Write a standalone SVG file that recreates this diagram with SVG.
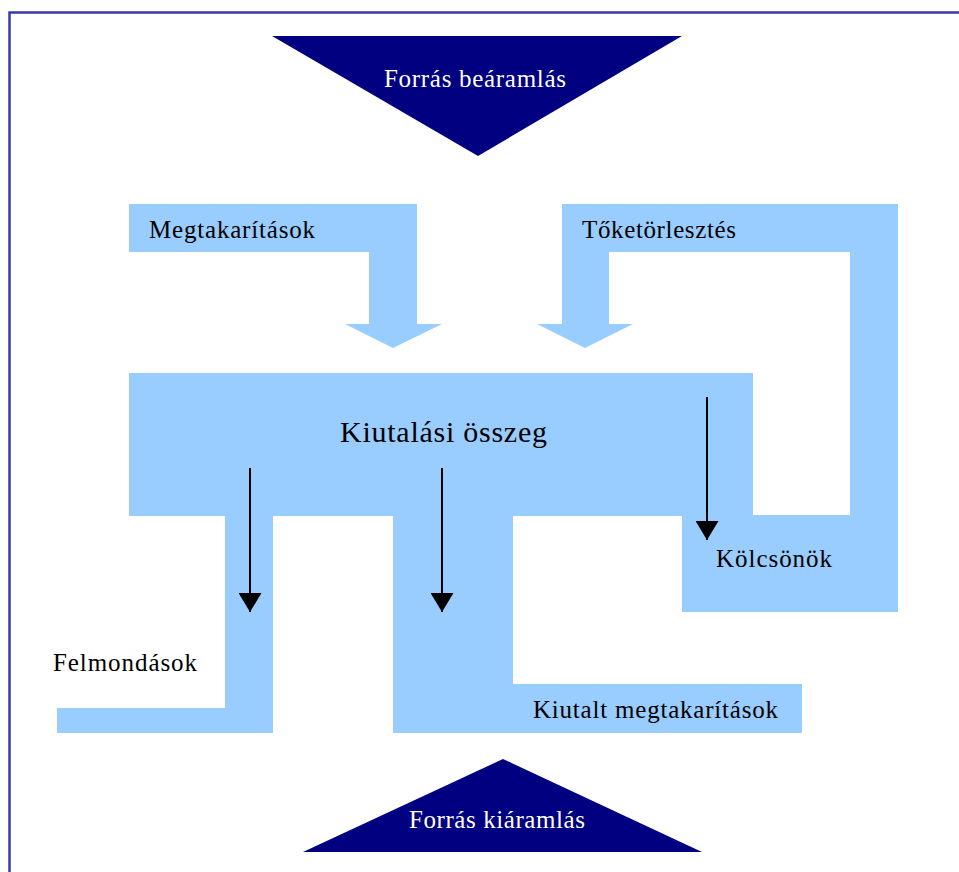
<svg xmlns="http://www.w3.org/2000/svg" width="959" height="872" viewBox="0 0 959 872">
  <style>
    .flow { fill: #99ccff; }
    .tri { fill: #000080; }
    .lbl { font-family: "Liberation Serif", "Times New Roman", serif; font-size: 25px; fill: #000000; }
    .wlbl { font-family: "Liberation Serif", "Times New Roman", serif; font-size: 25px; fill: #ffffff; }
    .big { font-size: 30px; }
    .conn { stroke: #000000; stroke-width: 2; fill: none; }
    .frame { stroke: #3a3aa8; stroke-width: 2.5; fill: none; }
  </style>
  <defs>
    <marker id="ah" viewBox="0 0 19 23" refX="19" refY="11.5" markerWidth="19" markerHeight="23" markerUnits="userSpaceOnUse" orient="auto">
      <path d="M0,0 L19,11.5 L0,23 Z" fill="#000000"/>
    </marker>
  </defs>
  <rect x="0" y="0" width="959" height="872" fill="#ffffff"/>
  <path class="frame" d="M9.5,872 V12.5 H959"/>

  <g id="forras-bearamlas">
    <polygon class="tri" points="272,36 682,36 478,156"/>
    <text class="wlbl" x="384" y="87" textLength="182" lengthAdjust="spacing">Forrás beáramlás</text>
  </g>

  <g id="megtakaritasok">
    <path class="flow" d="M129,204 H417 V324 H442 L393,348 L345,324 H369 V252 H129 Z"/>
    <text class="lbl" x="149" y="238" textLength="166" lengthAdjust="spacing">Megtakarítások</text>
  </g>

  <g id="toketorlesztes">
    <path class="flow" d="M562,204 H898 V520 H850 V252 H609 V324 H633 L585,348 L537,324 H562 Z"/>
    <text class="lbl" x="582" y="238" textLength="154" lengthAdjust="spacing">Tőketörlesztés</text>
  </g>

  <g id="kiutalasi-osszeg">
    <rect class="flow" x="129" y="373" width="624" height="143"/>
    <text class="lbl big" x="340" y="442" textLength="207" lengthAdjust="spacing">Kiutalási összeg</text>
  </g>

  <g id="kolcsonok">
    <rect class="flow" x="682" y="515" width="216" height="97"/>
    <text class="lbl" x="716" y="567" textLength="116" lengthAdjust="spacing">Kölcsönök</text>
  </g>

  <g id="felmondasok">
    <path class="flow" d="M225,515 H273 V733 H57 V708 H225 Z"/>
    <text class="lbl" x="53" y="671" textLength="144" lengthAdjust="spacing">Felmondások</text>
  </g>

  <g id="kiutalt-megtakaritasok">
    <path class="flow" d="M393,515 H513 V684 H802 V733 H393 Z"/>
    <text class="lbl" x="533" y="718" textLength="245" lengthAdjust="spacing">Kiutalt megtakarítások</text>
  </g>

  <g id="forras-kiaramlas">
    <polygon class="tri" points="503,759 702,852 303,852"/>
    <text class="wlbl" x="409" y="828" textLength="176" lengthAdjust="spacing">Forrás kiáramlás</text>
  </g>

  <g id="connectors">
    <line class="conn" x1="250" y1="468" x2="250" y2="612" marker-end="url(#ah)"/>
    <line class="conn" x1="442" y1="468" x2="442" y2="612" marker-end="url(#ah)"/>
    <line class="conn" x1="707" y1="397" x2="707" y2="540" marker-end="url(#ah)"/>
  </g>
</svg>
